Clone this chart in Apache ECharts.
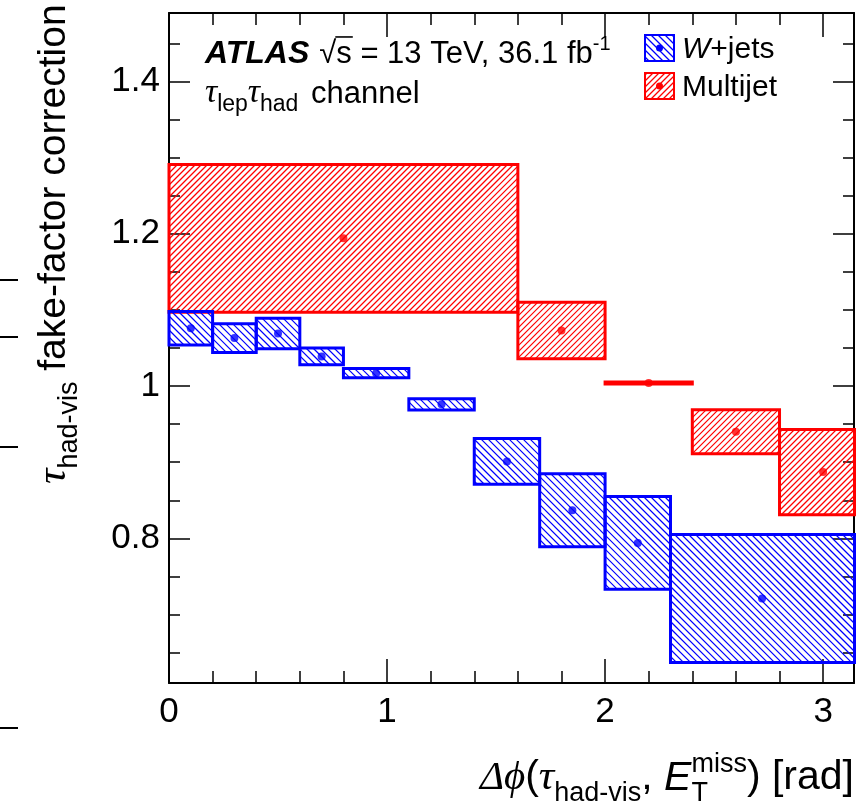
<!DOCTYPE html>
<html>
<head>
<meta charset="utf-8">
<script src="https://cdn.jsdelivr.net/npm/echarts@6/dist/echarts.min.js"></script>
<style>
html, body { margin: 0; padding: 0; background: #ffffff; }
#chart { width: 868px; height: 803px; }
</style>
</head>
<body>
<div id="chart"></div>
<script>
// Bin edges, central values and half-widths of the uncertainty bands
const wjetsEdges = [0, 0.2, 0.4, 0.6, 0.8, 1.1, 1.4, 1.7, 2.0, 2.3, 3.2];
const wjetsX = [0.1, 0.3, 0.5, 0.7, 0.95, 1.25, 1.55, 1.85, 2.15, 2.72];
const wjetsValue = [1.076, 1.063, 1.069, 1.039, 1.017, 0.976, 0.901, 0.837, 0.794, 0.721];
const wjetsError = [0.022, 0.019, 0.020, 0.011, 0.006, 0.0075, 0.030, 0.048, 0.061, 0.084];

const multijetEdges = [0, 1.6, 2.0, 2.4, 2.8, 3.2];
const multijetX = [0.8, 1.8, 2.2, 2.6, 3.0];
const multijetValue = [1.194, 1.073, 1.004, 0.940, 0.887];
const multijetError = [0.097, 0.037, 0.0012, 0.029, 0.056];

// Axis ranges and tick positions
const xMin = 0, xMax = Math.PI;
const yMin = 0.61, yMax = 1.49;
const xMajorTicks = [0, 1, 2, 3];
const xMinorTicks = [0.2, 0.4, 0.6, 0.8, 1.2, 1.4, 1.6, 1.8, 2.2, 2.4, 2.6, 2.8, 3.0];
const yMajorTicks = [0.8, 1, 1.2, 1.4];
const yMinorTicks = [0.65, 0.7, 0.75, 0.85, 0.9, 0.95, 1.05, 1.1, 1.15, 1.25, 1.3, 1.35, 1.45];

const BLUE = '#0000ff';
const RED = '#ff0000';
const SANS = '"Liberation Sans", Arial, Helvetica, sans-serif';
const GREEK = '"Liberation Serif", "DejaVu Serif", serif';

// 45-degree hatch lines clipped to a pixel rectangle
function hatchLines(x0, y0, x1, y1, step, backslash, color) {
  const out = [];
  const st = () => ({ stroke: color, lineWidth: 1.2 });
  if (backslash) {
    const cStart = Math.ceil((y0 - x1) / step) * step;
    for (let c = cStart; c <= y1 - x0; c += step) {
      const xa = Math.max(x0, y0 - c), xb = Math.min(x1, y1 - c);
      if (xb > xa) out.push({ type: 'line', shape: { x1: xa, y1: xa + c, x2: xb, y2: xb + c }, style: st() });
    }
  } else {
    const cStart = Math.ceil((x0 + y0) / step) * step;
    for (let c = cStart; c <= x1 + y1; c += step) {
      const xa = Math.max(x0, c - y1), xb = Math.min(x1, c - y0);
      if (xb > xa) out.push({ type: 'line', shape: { x1: xa, y1: c - xa, x2: xb, y2: c - xb }, style: st() });
    }
  }
  return out;
}

function hatchedBox(r, color, step, backslash, lineWidth) {
  return hatchLines(r.x, r.y, r.x + r.width, r.y + r.height, step, backslash, color).concat([{
    type: 'rect',
    shape: { x: r.x, y: r.y, width: r.width, height: r.height },
    style: { fill: 'none', stroke: color, lineWidth: lineWidth }
  }]);
}

function bandRows(edges, values, errors) {
  return values.map((v, i) => [edges[i], edges[i + 1], v - errors[i], v + errors[i]]);
}

function bandSeries(name, rows, color, step, backslash, z) {
  return {
    type: 'custom',
    name: name,
    z: z,
    silent: true,
    data: rows,
    encode: { x: [0, 1], y: [2, 3] },
    renderItem: function (params, api) {
      const p0 = api.coord([api.value(0), api.value(3)]);
      const p1 = api.coord([api.value(1), api.value(2)]);
      const cs = params.coordSys;
      const rect = echarts.graphic.clipRectByRect(
        { x: p0[0], y: p0[1], width: p1[0] - p0[0], height: Math.max(p1[1] - p0[1], 0.5) },
        { x: cs.x, y: cs.y, width: cs.width + 0.5, height: cs.height }
      );
      if (!rect) return null;
      return { type: 'group', children: hatchedBox(rect, color, step, backslash, 3) };
    }
  };
}

function pointSeries(name, xs, ys, color, z) {
  return {
    type: 'scatter',
    name: name,
    z: z,
    silent: true,
    symbol: 'circle',
    symbolSize: 8,
    itemStyle: { color: color },
    data: xs.map((x, i) => [x, ys[i]])
  };
}

// Sequential text runs with sub/superscripts placed on a common baseline
const measureCtx = document.createElement('canvas').getContext('2d');
function fontString(p) {
  return (p.italic ? 'italic ' : '') + (p.bold ? 'bold ' : '') + p.size + 'px ' + (p.family || SANS);
}
function textRun(parts, x0, baseline, color) {
  const els = [];
  let x = x0;
  let stackW = 0;
  parts.forEach(p => {
    measureCtx.font = fontString(p);
    const adv = measureCtx.measureText(p.text).width;
    const yb = baseline + (p.dy || 0);
    els.push({
      type: 'text',
      x: x,
      y: yb + p.size * 0.21,
      style: {
        text: p.text,
        font: fontString(p),
        fill: color || '#000',
        align: 'left',
        verticalAlign: 'bottom'
      }
    });
    if (p.overline) {
      const ly = yb - p.size * 0.84;
      els.push({ type: 'line', shape: { x1: x - 1, y1: ly, x2: x + adv + 1, y2: ly },
                 style: { stroke: color || '#000', lineWidth: 1.6 } });
    }
    if (p.stack) { stackW = adv; }
    else { x += Math.max(adv, stackW) + (p.gap || 0); stackW = 0; }
  });
  return { els: els, width: x - x0 };
}

const atlasParts = [
  { text: 'ATLAS', size: 32, bold: true, italic: true, gap: 10 },
  { text: '\u221A', size: 31 },
  { text: 's', size: 31, overline: true },
  { text: ' = 13 TeV, 36.1 fb', size: 31 },
  { text: '-1', size: 20, dy: -13 }
];
const channelParts = [
  { text: '\u03C4', size: 34, italic: true, family: GREEK },
  { text: 'lep', size: 23, dy: 8 },
  { text: '\u03C4', size: 34, italic: true, family: GREEK },
  { text: 'had', size: 23, dy: 8, gap: 4 },
  { text: ' channel', size: 31 }
];
const xTitleParts = [
  { text: '\u0394\u03D5', size: 41, italic: true, family: GREEK },
  { text: '(', size: 41 },
  { text: '\u03C4', size: 43, italic: true, family: GREEK },
  { text: 'had-vis', size: 27, dy: 11 },
  { text: ', ', size: 41 },
  { text: 'E', size: 41, italic: true },
  { text: 'miss', size: 27, dy: -18, stack: true },
  { text: 'T', size: 27, dy: 11 },
  { text: ') [rad]', size: 41 }
];
const yTitleParts = [
  { text: '\u03C4', size: 43, italic: true, family: GREEK },
  { text: 'had-vis', size: 27, dy: 11 },
  { text: ' fake-factor correction', size: 39 }
];

const xTitle = textRun(xTitleParts, 0, 0);
const yTitle = textRun(yTitleParts, 0, 0);

function legendEntry(y, color, backslash, step, parts) {
  const box = { x: 645, y: y, width: 29, height: 26 };
  return [
    { type: 'group', z: 10, children: hatchedBox(box, color, step, backslash, 2) },
    { type: 'circle', z: 11, shape: { cx: box.x + box.width / 2, cy: y + 13, r: 3.5 }, style: { fill: color } },
    { type: 'group', z: 10, children: textRun(parts, 682, y + 23, '#000').els }
  ];
}

const graphics = [].concat(
  [{ type: 'group', children: textRun(atlasParts, 205, 63).els }],
  [{ type: 'group', children: textRun(channelParts, 205, 103).els }],
  legendEntry(35, BLUE, true, 7, [
    { text: 'W', size: 30, italic: true },
    { text: '+jets', size: 30 }
  ]),
  legendEntry(73, RED, false, 6, [{ text: 'Multijet', size: 30 }]),
  [{ type: 'group', x: 854 - xTitle.width, y: 790, children: xTitle.els }],
  [{ type: 'group', x: 66, y: 484, rotation: Math.PI / 2, children: yTitle.els }],
  // tick marks of a neighbouring pad at the left edge
  [280, 337, 447, 728].map(y => ({
    type: 'line', shape: { x1: 0, y1: y, x2: 18, y2: y },
    style: { stroke: '#000', lineWidth: 2 }
  }))
);

const chart = echarts.init(document.getElementById('chart'), null, { renderer: 'canvas' });

function xAxisDef(position, ticks, len, withLabel, withLine) {
  return {
    type: 'value', min: xMin, max: xMax, position: position,
    axisLine: { show: withLine, onZero: false, lineStyle: { color: '#000', width: 2 } },
    axisTick: { show: true, inside: true, length: len, customValues: ticks,
                lineStyle: { color: '#000', width: 1.5 } },
    axisLabel: withLabel
      ? { show: true, customValues: ticks, fontSize: 35, fontFamily: SANS, color: '#000', margin: 12 }
      : { show: false },
    splitLine: { show: false }
  };
}
function yAxisDef(position, ticks, len, withLabel, withLine) {
  return {
    type: 'value', min: yMin, max: yMax, position: position,
    axisLine: { show: withLine, onZero: false, lineStyle: { color: '#000', width: 2 } },
    axisTick: { show: true, inside: true, length: len, customValues: ticks,
                lineStyle: { color: '#000', width: 1.5 } },
    axisLabel: withLabel
      ? { show: true, customValues: ticks, fontSize: 35, fontFamily: SANS, color: '#000', margin: 9,
          formatter: v => String(Math.round(v * 10) / 10) }
      : { show: false },
    splitLine: { show: false }
  };
}

chart.setOption({
  animation: false,
  backgroundColor: '#ffffff',
  grid: { left: 169, top: 13, width: 685, height: 670, containLabel: false },
  xAxis: [
    xAxisDef('bottom', xMajorTicks, 24, true, true),
    xAxisDef('bottom', xMinorTicks, 12, false, false),
    xAxisDef('top', xMajorTicks, 24, false, true),
    xAxisDef('top', xMinorTicks, 12, false, false)
  ],
  yAxis: [
    yAxisDef('left', yMajorTicks, 21, true, true),
    yAxisDef('left', yMinorTicks, 11, false, false),
    yAxisDef('right', yMajorTicks, 21, false, true),
    yAxisDef('right', yMinorTicks, 11, false, false)
  ],
  series: [
    bandSeries('Multijet', bandRows(multijetEdges, multijetValue, multijetError), RED, 6, false, 2),
    bandSeries('W+jets', bandRows(wjetsEdges, wjetsValue, wjetsError), BLUE, 7, true, 3),
    pointSeries('W+jets', wjetsX, wjetsValue, BLUE, 5),
    pointSeries('Multijet', multijetX, multijetValue, RED, 5)
  ],
  graphic: graphics
});
</script>
</body>
</html>
